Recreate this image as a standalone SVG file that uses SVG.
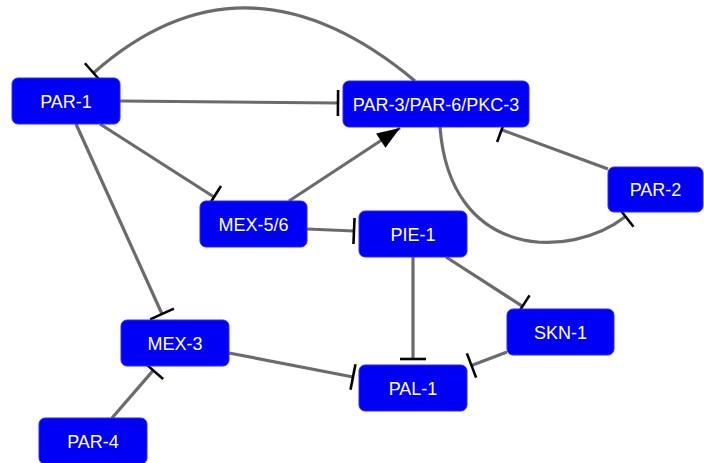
<svg xmlns="http://www.w3.org/2000/svg" width="704" height="463" viewBox="0 0 704 463">
<style>
.edge{fill:none;stroke:#6b6b6b;stroke-width:3.2}
.inh{marker-end:url(#tee)}
.act{marker-end:url(#arrow)}
.node rect{fill:#0000f5;stroke:#2a2aff;stroke-width:1}
.node text{fill:#ffffff;font-family:"Liberation Sans",Arial,sans-serif;font-size:18px;text-anchor:middle}
</style>
<defs>
<marker id="tee" markerUnits="userSpaceOnUse" viewBox="-2 -14 4 28" markerWidth="4" markerHeight="28" refX="0" refY="0" orient="auto" overflow="visible">
<path d="M0,-13 L0,13" stroke="#000" stroke-width="2.6" fill="none"/>
</marker>
<marker id="arrow" markerUnits="userSpaceOnUse" viewBox="-24 -10 24 20" markerWidth="24" markerHeight="20" refX="0" refY="0" orient="auto" overflow="visible">
<path d="M0,0 L-23,-8.5 L-23,8.5 Z" fill="#000"/>
</marker>
</defs>
<rect width="704" height="463" fill="#ffffff"/>
<g id="connectors">
<path class="edge inh" d="M120,101 L338,103"/>
<path class="edge inh" d="M415,81 Q245,-61 93.5,73"/>
<path class="edge inh" d="M100,124 L214,197"/>
<path class="edge inh" d="M76,124 L162,314"/>
<path class="edge act" d="M289,201 L400,128"/>
<path class="edge inh" d="M307,229 L354,231"/>
<path class="edge inh" d="M608,169 L501.6,129.8"/>
<path class="edge inh" d="M440,127 C450,260 570,260 625.5,216.5"/>
<path class="edge inh" d="M413,257 L413,359"/>
<path class="edge inh" d="M446,257 L522.5,306.3"/>
<path class="edge inh" d="M507,352 L471.5,365.5"/>
<path class="edge inh" d="M229,353 L353,377"/>
<path class="edge inh" d="M112,418 L153.3,370.4"/>
</g>
<g id="PAR-1" class="node"><rect x="12" y="78" width="108" height="46" rx="6"/><text x="66" y="107.5">PAR-1</text></g>
<g id="PAR-3_PAR-6_PKC-3" class="node"><rect x="343" y="81" width="186" height="46" rx="6"/><text x="436" y="110.5">PAR-3/PAR-6/PKC-3</text></g>
<g id="PAR-2" class="node"><rect x="608" y="167" width="95" height="45" rx="6"/><text x="655.5" y="196">PAR-2</text></g>
<g id="MEX-5_6" class="node"><rect x="200" y="201" width="107" height="46" rx="6"/><text x="253.5" y="230.5">MEX-5/6</text></g>
<g id="PIE-1" class="node"><rect x="359" y="211" width="108" height="46" rx="6"/><text x="413" y="240.5">PIE-1</text></g>
<g id="MEX-3" class="node"><rect x="121" y="320" width="108" height="46" rx="6"/><text x="175" y="349.5">MEX-3</text></g>
<g id="SKN-1" class="node"><rect x="507" y="309" width="107" height="46" rx="6"/><text x="560.5" y="338.5">SKN-1</text></g>
<g id="PAL-1" class="node"><rect x="359" y="365" width="108" height="46" rx="6"/><text x="413" y="394.5">PAL-1</text></g>
<g id="PAR-4" class="node"><rect x="39" y="418" width="108" height="46" rx="6"/><text x="93" y="447.5">PAR-4</text></g>
</svg>
